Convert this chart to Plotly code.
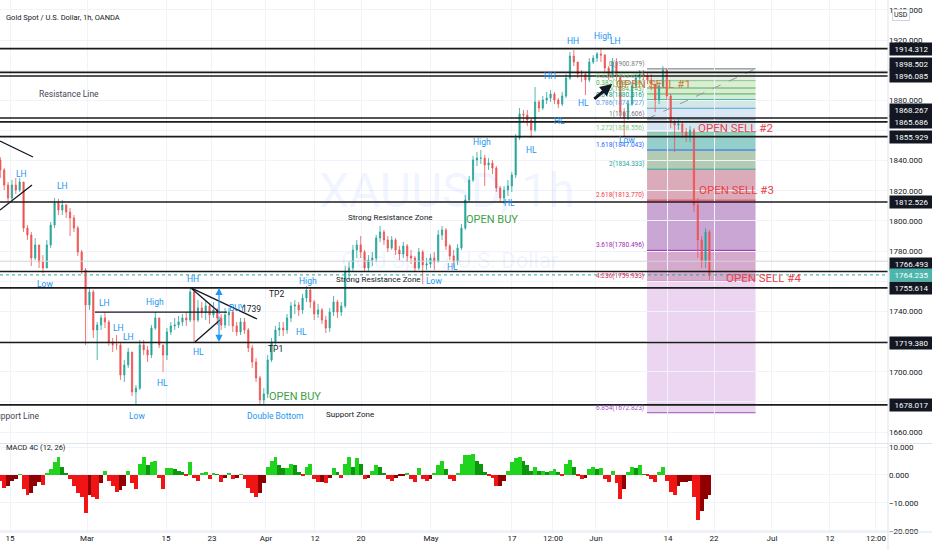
import plotly.graph_objects as go

FONT = "Roboto, Arial, sans-serif"

# ---- price data, half-day bars from 15 Feb ----
first_open = 1840.4
closes = [
    1833.8, 1823.8, 1815.2, 1823.8, 1820.5, 1825.8, 1795.3, 1790.7, 1775.4, 1784.1,
    1772.8, 1768.8, 1784.1, 1797.3, 1811.9, 1807.3, 1810.6, 1805.9, 1802.0, 1795.3,
    1779.4, 1767.5, 1744.3, 1752.9, 1727.7, 1731.0, 1735.7, 1733.0, 1719.8, 1717.8,
    1717.8, 1697.9, 1704.5, 1713.1, 1686.6, 1689.1, 1717.8, 1714.5, 1711.1, 1729.0,
    1735.7, 1717.8, 1711.1, 1726.4, 1730.4, 1731.0, 1733.0, 1735.7, 1734.3, 1752.9,
    1734.3, 1742.3, 1739.6, 1743.6, 1737.7, 1741.0, 1735.7, 1731.0, 1737.7, 1739.6,
    1730.4, 1726.4, 1733.0, 1727.7, 1715.8, 1706.5, 1695.9, 1681.3, 1685.3, 1707.8,
    1719.8, 1727.7, 1729.0, 1727.7, 1735.7, 1743.6, 1744.3, 1741.0, 1748.9, 1754.2,
    1746.3, 1738.3, 1741.0, 1734.3, 1729.0, 1739.6, 1746.3, 1739.6, 1743.6, 1766.2,
    1768.8, 1780.8, 1784.1, 1779.4, 1768.8, 1774.1, 1775.4, 1788.7, 1792.7, 1787.4,
    1782.1, 1787.4, 1780.8, 1778.1, 1783.4, 1776.8, 1775.4, 1768.8, 1779.4, 1770.8,
    1771.5, 1775.4, 1772.8, 1790.7, 1794.0, 1783.4, 1776.8, 1772.8, 1782.1, 1795.3,
    1813.9, 1827.2, 1840.4, 1841.7, 1841.7, 1837.1, 1838.4, 1835.1, 1821.9, 1815.2,
    1820.5, 1823.2, 1830.5, 1855.0, 1870.9, 1870.3, 1866.9, 1860.3, 1878.9, 1874.9,
    1880.2, 1881.5, 1884.2, 1880.2, 1877.5, 1882.9, 1894.8, 1909.4, 1905.4, 1897.4,
    1897.4, 1893.5, 1905.4, 1908.0, 1910.7, 1910.0, 1901.4, 1896.1, 1905.4, 1896.1,
    1872.2, 1868.3, 1877.5, 1889.5, 1894.8, 1897.4, 1896.1, 1893.5, 1890.8, 1880.2,
    1889.5, 1900.1, 1882.9, 1865.6, 1863.6, 1864.3, 1859.0, 1856.3, 1860.3, 1810.6,
    1787.4, 1772.8, 1792.7, 1764.2,
]
highs = [
    1842.4, 1835.1, 1825.8, 1827.2, 1828.5, 1828.5, 1825.8, 1797.3, 1792.7, 1788.7,
    1784.1, 1777.4, 1787.4, 1799.3, 1815.2, 1814.6, 1813.9, 1811.2, 1808.6, 1803.9,
    1796.7, 1780.8, 1768.8, 1755.6, 1754.2, 1733.0, 1737.7, 1739.6, 1734.3, 1722.4,
    1724.4, 1719.8, 1707.8, 1715.8, 1713.1, 1691.2, 1721.1, 1721.1, 1717.1, 1731.0,
    1739.6, 1735.7, 1717.8, 1729.0, 1733.0, 1735.7, 1737.0, 1738.3, 1739.6, 1755.6,
    1754.2, 1747.6, 1746.3, 1747.6, 1745.0, 1746.3, 1742.3, 1738.3, 1742.3, 1742.3,
    1741.0, 1733.0, 1735.7, 1735.7, 1729.0, 1717.8, 1709.1, 1697.2, 1689.1, 1711.1,
    1722.4, 1730.4, 1733.0, 1733.0, 1738.3, 1746.3, 1747.6, 1746.3, 1751.6, 1756.9,
    1755.6, 1747.6, 1745.0, 1742.3, 1737.0, 1742.3, 1750.3, 1747.6, 1746.3, 1770.1,
    1772.8, 1784.1, 1787.4, 1790.0, 1780.8, 1777.4, 1779.4, 1790.7, 1796.7, 1794.0,
    1790.0, 1790.0, 1788.7, 1783.4, 1786.1, 1784.7, 1780.8, 1776.8, 1782.1, 1780.8,
    1775.4, 1778.1, 1779.4, 1794.0, 1796.7, 1795.3, 1784.7, 1780.8, 1784.7, 1798.0,
    1817.2, 1829.8, 1843.1, 1845.7, 1847.0, 1843.7, 1841.7, 1840.4, 1836.4, 1823.2,
    1823.2, 1827.2, 1832.5, 1857.7, 1874.9, 1873.6, 1873.6, 1868.3, 1888.8, 1880.2,
    1882.9, 1885.5, 1886.8, 1885.5, 1881.5, 1885.5, 1897.4, 1912.0, 1913.4, 1905.4,
    1900.1, 1898.8, 1908.0, 1910.0, 1912.0, 1914.7, 1910.7, 1902.7, 1908.0, 1908.0,
    1897.4, 1874.9, 1880.2, 1892.1, 1897.4, 1900.1, 1900.1, 1898.8, 1897.4, 1890.8,
    1892.1, 1902.7, 1901.4, 1884.2, 1866.9, 1868.3, 1865.6, 1861.6, 1863.0, 1861.6,
    1815.2, 1790.0, 1795.3, 1794.0,
]
lows = [
    1828.5, 1820.5, 1812.6, 1813.9, 1817.9, 1819.2, 1792.7, 1787.4, 1770.1, 1774.1,
    1768.8, 1765.5, 1768.8, 1782.1, 1795.3, 1803.9, 1803.9, 1802.0, 1790.0, 1792.7,
    1776.8, 1764.8, 1717.8, 1741.0, 1722.4, 1707.8, 1727.7, 1729.0, 1717.1, 1713.1,
    1714.5, 1694.6, 1693.2, 1702.5, 1683.9, 1678.0, 1687.9, 1711.1, 1706.5, 1709.1,
    1727.7, 1715.8, 1699.9, 1707.8, 1724.4, 1727.7, 1729.0, 1730.4, 1730.4, 1733.0,
    1719.8, 1733.0, 1735.7, 1734.3, 1731.7, 1735.7, 1731.0, 1727.7, 1729.0, 1730.4,
    1726.4, 1723.7, 1724.4, 1725.1, 1713.1, 1702.5, 1693.2, 1678.0, 1678.0, 1682.6,
    1706.5, 1717.8, 1723.7, 1723.7, 1725.1, 1733.0, 1738.3, 1737.0, 1738.3, 1746.3,
    1742.3, 1734.3, 1735.7, 1731.7, 1725.7, 1726.4, 1737.0, 1735.7, 1737.0, 1742.3,
    1760.9, 1766.2, 1775.4, 1775.4, 1766.2, 1766.2, 1770.1, 1772.8, 1786.1, 1784.1,
    1779.4, 1780.8, 1777.4, 1774.1, 1775.4, 1772.8, 1771.5, 1766.2, 1767.5, 1758.2,
    1767.5, 1768.8, 1767.5, 1772.8, 1787.4, 1780.8, 1774.1, 1768.8, 1770.8, 1780.8,
    1794.0, 1812.6, 1825.8, 1836.4, 1837.8, 1823.2, 1833.8, 1831.1, 1819.2, 1812.6,
    1811.2, 1816.6, 1819.2, 1828.5, 1853.7, 1865.6, 1863.0, 1855.0, 1859.0, 1872.2,
    1873.6, 1877.5, 1878.9, 1877.5, 1874.9, 1876.2, 1881.5, 1893.5, 1902.7, 1894.8,
    1892.1, 1883.5, 1892.1, 1904.1, 1905.4, 1905.4, 1898.8, 1893.5, 1894.8, 1893.5,
    1868.3, 1856.3, 1866.9, 1876.2, 1888.2, 1893.5, 1893.5, 1890.8, 1886.8, 1872.2,
    1877.5, 1888.2, 1880.2, 1861.6, 1845.7, 1860.3, 1855.0, 1852.4, 1852.4, 1805.9,
    1775.4, 1768.8, 1768.8, 1760.9,
]
# MACD 4C value per bar
macd_values = [
    -2, -4.5, -4, -2, -1.5, 0.3, -5, -7, -6.5, -4,
    -2.5, -3.5, 0.5, 2, 4.5, 6.5, 3, 0.5, -1.5, -4,
    -6.5, -8, -13.5, -7, -8, -8.5, -3, 1.5, -2, -4,
    -6, -5.5, -4, 1.5, -3, -5, 4, 6.5, 3.5, 4.5,
    5, -1, -5, 2.5, 2.5, 2, 1.5, 1, -0.5, 4.5,
    -1, -2, 0.8, 1, -1.5, 0.5, 0.3, -2.5, -1, 0.5,
    -1.5, -1, 0.3, -1.5, -4.5, -6.5, -8, -6.5, -3, 3,
    5, 6.5, 3.5, 2.5, 2.5, 4, 3.5, 1, -0.3, 3,
    4, -1.5, -2.5, -2.5, -2.8, -1, 2.5, 1, -1, 4,
    6.5, 3, 6, 4, -1.5, -1, 1.5, 3.5, 3, 0.5,
    -1.5, -2, -1, -0.5, -0.3, 0.5, -1.5, -2.5, 2.5, -1.5,
    -2, -1.5, 0.5, 3.5, 5, 2, -1.5, -2, 0.5, 4,
    7, 7, 7.5, 5, 4, 1, -0.5, -1, -4, -4,
    -2, 1.5, 4.5, 6, 6.5, 5, 3.5, 1.5, 3, 1.5,
    1.5, 1.2, 1.5, 2, 1, -0.5, 4, 5.5, 3, -0.5,
    -1.5, -1, 2, 3, 2, 2.5, -1.5, -2.5, 1.5, -3,
    -8.5, -5, 1, 3, 2.5, 3.5, 0.3, -0.5, -1.5, -2.5,
    1, 3, -2, -6, -7, -4, -2.5, -2.5, -2, -8,
    -16, -13, -8.5, -7,
]

# time axis in trading days since 15 Feb
time_ticks = [0.0, 9.94, 20.13, 26.06, 33.03, 39.35, 45.29, 54.32, 64.77,
              70.06, 75.61, 84.9, 90.84, 98.32, 105.8, 111.74]
time_labels = ["15", "Mar", "15", "23", "Apr", "12", "20", "May", "17",
               "12:00", "Jun", "14", "22", "Jul", "12", "12:00"]
price_ticks = [1660, 1680, 1700, 1720, 1740, 1760, 1780, 1800, 1820,
               1840, 1860, 1880, 1900, 1920, 1940]
# labels hidden behind the level boxes are left blank
price_labels = ["1660.000", "", "1700.000", "", "1740.000", "", "1780.000", "1800.000",
                "1820.000", "1840.000", "", "1880.000", "", "1920.000", "1940.000"]
macd_ticks = [-20, -10, 0, 10]

key_levels = [1914.312, 1898.502, 1896.085, 1868.267, 1865.686, 1855.929,
              1812.526, 1766.493, 1755.614, 1719.380, 1678.017]
last_price = 1764.235
zone_price = 1773.3

fib_ratios = [0, 0.236, 0.382, 0.5, 0.618, 0.786, 1, 1.272, 1.618, 2,
              2.618, 3.618, 4.236, 6.854]
fib_prices = [1900.879, 1893.027, 1888.169, 1884.243, 1880.316, 1874.727,
              1867.606, 1858.556, 1847.043, 1834.333, 1813.770, 1780.496,
              1759.933, 1672.823]

# ---- styling ----
fib_line_colors = ["#787b86", "#81c784", "#4caf50", "#4caf50", "#089981",
                   "#5b9bd5", "#787b86", "#81c784", "#2962ff", "#26a69a",
                   "#f23645", "#9c27b0", "#e91e63", "#9c4fbf"]
fib_band_colors = ["#e6efe3", "#dcedd5", "#d8ecd4", "#d4ebd8", "#d0e9e4",
                   "#d9e7f5", "#d6e4f2", "#94d0c9", "#b3cbb3", "#dcabb9",
                   "#caa6d4", "#d6aacd", "#ecd5f0"]
fib_left, fib_right = 82.2, 96.2

bar_x = [-1.25 + 0.5 * i for i in range(len(closes))]
opens = [first_open] + closes[:-1]

macd_colors = []
prev = 0
for v in macd_values:
    if v >= 0:
        macd_colors.append("#1fd31f" if v >= prev else "#0b960b")
    else:
        macd_colors.append("#f01414" if v < prev else "#900000")
    prev = v

fig = go.Figure()
fig.add_trace(go.Candlestick(
    x=bar_x, open=opens, high=highs, low=lows, close=closes,
    increasing=dict(line=dict(color="#26a69a", width=0.8), fillcolor="#26a69a"),
    decreasing=dict(line=dict(color="#ef5350", width=0.8), fillcolor="#ef5350"),
    whiskerwidth=0, xaxis="x", yaxis="y", hoverinfo="skip", showlegend=False,
))
fig.add_trace(go.Bar(
    x=bar_x, y=macd_values, width=0.5,
    marker=dict(color=macd_colors, line=dict(width=0)),
    xaxis="x2", yaxis="y2", hoverinfo="skip", showlegend=False,
))

shapes = []
annotations = []

# watermark
annotations.append(dict(x=56.4, y=1820.5, xref="x", yref="y", text="XAUUSD, 1h",
                        showarrow=False, font=dict(size=48, color="rgba(41,98,255,0.08)", family=FONT)))
annotations.append(dict(x=56.8, y=1774.1, xref="x", yref="y", text="Gold Spot / U.S. Dollar",
                        showarrow=False, font=dict(size=22, color="rgba(41,98,255,0.08)", family=FONT)))

# fib extension box
for k in range(len(fib_prices) - 1):
    shapes.append(dict(type="rect", xref="x", yref="y", x0=fib_left, x1=fib_right,
                       y0=fib_prices[k], y1=fib_prices[k + 1], fillcolor=fib_band_colors[k],
                       line=dict(width=0), layer="below"))
for r, p, c in zip(fib_ratios, fib_prices, fib_line_colors):
    shapes.append(dict(type="line", xref="x", yref="y", x0=fib_left, x1=fib_right,
                       y0=p, y1=p, line=dict(color=c, width=1), layer="below"))
    annotations.append(dict(x=fib_left - 0.2, y=p, xref="x", yref="y", xanchor="right",
                            yshift=5, text=f"{r:g}({p:.3f})", showarrow=False,
                            font=dict(size=6.5, color=c, family=FONT)))
shapes.append(dict(type="line", xref="x", yref="y", x0=fib_left, y0=fib_prices[6],
                   x1=fib_right, y1=fib_prices[0], line=dict(color="#9598a1", width=1, dash="dash")))

# horizontal key levels
shapes.append(dict(type="line", xref="paper", yref="y", x0=0, x1=1, y0=zone_price, y1=zone_price,
                   line=dict(color="#d1d4dc", width=1)))
for p in key_levels:
    shapes.append(dict(type="line", xref="paper", yref="y", x0=0, x1=1, y0=p, y1=p,
                       line=dict(color="#1b1b1b", width=1.6)))
shapes.append(dict(type="line", xref="paper", yref="y", x0=0, x1=1, y0=last_price, y1=last_price,
                   line=dict(color="#26a69a", width=1, dash="dot")))

# trend / pattern lines
segments = [
    (-1.29, 1853.0, 2.97, 1842.4),
    (-1.29, 1807.3, 2.84, 1823.8),
    (10.97, 1739.6, 28.0, 1739.6),
    (23.35, 1755.6, 31.87, 1735.0),
    (23.35, 1755.6, 27.1, 1739.0),
    (23.87, 1719.8, 27.1, 1734.3),
]
for x0, y0, x1, y1 in segments:
    shapes.append(dict(type="line", xref="x", yref="y", x0=x0, y0=y0, x1=x1, y1=y1,
                       line=dict(color="#131722", width=1.3)))

# blue double arrow
for tip in (1755.6, 1719.8):
    annotations.append(dict(x=26.97, y=tip, ax=26.97, ay=1737.7, xref="x", yref="y",
                            axref="x", ayref="y", text="", showarrow=True, arrowhead=2,
                            arrowsize=1.2, arrowwidth=1.2, arrowcolor="#2196f3"))
# black arrow to the sell entry
annotations.append(dict(x=77.7, y=1890.8, ax=75.2, ay=1880.2, xref="x", yref="y",
                        axref="x", ayref="y", text="", showarrow=True, arrowhead=2,
                        arrowsize=0.8, arrowwidth=3, arrowcolor="#131722"))

blue = "#2196f3"
dark = "#131722"
grey = "#434651"
texts = [
    ("LH", 1.42, 1831.1, blue, 8.5), ("LH", 6.71, 1823.2, blue, 8.5),
    ("Low", 4.52, 1758.2, blue, 8.5), ("LH", 12.13, 1745.6, blue, 8.5),
    ("High", 18.71, 1746.3, blue, 8.5), ("LH", 13.94, 1729.0, blue, 8.5),
    ("LH", 15.35, 1723.1, blue, 8.5), ("HL", 19.74, 1692.6, blue, 8.5),
    ("Low", 16.39, 1670.7, blue, 8.5), ("HH", 23.61, 1761.5, blue, 8.5),
    ("HL", 24.26, 1713.1, blue, 8.5), ("BUY", 29.3, 1742.3, blue, 8.5),
    ("High", 38.45, 1760.2, blue, 8.5), ("HL", 37.55, 1726.4, blue, 8.5),
    ("Double Bottom", 34.3, 1670.7, blue, 8.5), ("Low", 54.7, 1760.2, blue, 8.5),
    ("HL", 57.16, 1769.5, blue, 8.5), ("HL", 64.4, 1811.9, blue, 8.5),
    ("High", 60.9, 1852.4, blue, 8.5), ("HL", 67.35, 1847.0, blue, 8.5),
    ("HL", 70.84, 1866.3, blue, 8.5), ("HL", 74.06, 1878.2, blue, 8.5),
    ("HH", 69.68, 1896.1, blue, 8.5), ("HH", 72.65, 1919.3, blue, 8.5),
    ("High", 76.52, 1922.7, blue, 8.5), ("LH", 78.19, 1919.3, blue, 8.5),
    ("Low", 79.6, 1853.7, blue, 8.5),
    ("1739", 31.2, 1741.6, dark, 8.5), ("TP2", 34.45, 1751.6, dark, 8.5),
    ("TP1", 34.3, 1715.1, dark, 8.5), ("Support Zone", 43.87, 1671.4, dark, 8),
    ("Strong Resistance Zone", 49.16, 1802.0, dark, 8),
    ("Strong Resistance Zone", 47.6, 1761.5, dark, 8),
    ("Resistance Line", 7.6, 1884.2, grey, 8.5),
    ("OPEN BUY", 36.77, 1683.9, "#43a047", 11), ("OPEN BUY", 62.2, 1801.3, "#43a047", 11),
    ("OPEN SELL #1", 82.97, 1890.8, "#c97a3b", 11.5),
    ("OPEN SELL #2", 93.55, 1861.6, "#e8424a", 11.5),
    ("OPEN SELL #3", 93.68, 1820.5, "#e8424a", 11.5),
    ("OPEN SELL #4", 97.23, 1762.2, "#e8424a", 11.5),
]
for t, x, y, c, s in texts:
    annotations.append(dict(x=x, y=y, xref="x", yref="y", text=t, showarrow=False,
                            font=dict(size=s, color=c, family=FONT)))
annotations.append(dict(x=4.0, y=1670.7, xref="x", yref="y", xanchor="right", text="Support Line",
                        showarrow=False, font=dict(size=8.5, color=grey, family=FONT)))

# price scale labels
label_shift = {1898.502: 8, 1868.267: 8, 1766.493: 7}
for p in key_levels:
    annotations.append(dict(xref="paper", x=1, xanchor="left", xshift=1, yref="y", y=p,
                            yshift=label_shift.get(p, 0), text=f"{p:.3f}", showarrow=False,
                            bgcolor="#131722", borderpad=1.5, width=40,
                            font=dict(size=8, color="white", family=FONT)))
annotations.append(dict(xref="paper", x=1, xanchor="left", xshift=1, yref="y", y=last_price,
                        text=f"{last_price:.3f}", showarrow=False, bgcolor="#4db6ac",
                        borderpad=1.5, width=40, font=dict(size=8, color="white", family=FONT)))
annotations.append(dict(xref="paper", x=1.0248, yref="paper", y=0.983, text="USD",
                        showarrow=False, bgcolor="white", bordercolor="#d1d4dc", borderwidth=1,
                        borderpad=1, font=dict(size=7, color=dark, family=FONT)))

# header texts
annotations.append(dict(xref="paper", yref="paper", x=0.004, y=0.979, xanchor="left",
                        text="Gold Spot / U.S. Dollar, 1h, OANDA", showarrow=False,
                        font=dict(size=7.5, color=dark, family=FONT)))
annotations.append(dict(xref="paper", yref="paper", x=0.004, y=0.1466, xanchor="left",
                        text="MACD 4C (12, 26)", showarrow=False,
                        font=dict(size=7.5, color=dark, family=FONT)))

# pane borders
shapes.append(dict(type="line", xref="paper", yref="paper", x0=0, x1=1.05, y0=0.1664, y1=0.1664,
                   line=dict(color="#e0e3eb", width=1)))
shapes.append(dict(type="line", xref="paper", yref="paper", x0=0, x1=1.05, y0=0, y1=0,
                   line=dict(color="#e0e3eb", width=1)))
shapes.append(dict(type="line", xref="paper", yref="paper", x0=1, x1=1, y0=-0.04, y1=1,
                   line=dict(color="#e0e3eb", width=1)))

fig.update_layout(
    width=932, height=550,
    margin=dict(l=0, r=44, t=0, b=18),
    paper_bgcolor="white", plot_bgcolor="white",
    showlegend=False, bargap=0, boxgap=0.55,
    font=dict(family=FONT, color=dark, size=8),
    shapes=shapes, annotations=annotations,
    xaxis=dict(domain=[0, 1], range=[-1.29, 113.29], anchor="y", tickvals=time_ticks,
               showticklabels=False, showgrid=True, gridcolor="#f0f3fa", zeroline=False,
               rangeslider=dict(visible=False), fixedrange=True),
    xaxis2=dict(domain=[0, 1], matches="x", anchor="y2", tickvals=time_ticks,
                ticktext=time_labels, showgrid=True, gridcolor="#f0f3fa", zeroline=False,
                ticks="", tickfont=dict(size=8, color=dark)),
    yaxis=dict(domain=[0.1673, 1], range=[1652.76, 1946.53], side="right", anchor="x",
               tickvals=price_ticks, ticktext=price_labels, gridcolor="#f0f3fa", zeroline=False,
               ticks="", tickfont=dict(size=8, color=dark), fixedrange=True),
    yaxis2=dict(domain=[0, 0.1654], range=[-20.36, 11.07], side="right", anchor="x2",
                tickvals=macd_ticks, tickformat=".3f", gridcolor="#f0f3fa", zeroline=False,
                ticks="", tickfont=dict(size=8, color=dark), fixedrange=True),
)

fig.write_html("out.html", config={"displayModeBar": False},
               post_script="document.body.style.margin='0';document.body.style.overflow='hidden';")
